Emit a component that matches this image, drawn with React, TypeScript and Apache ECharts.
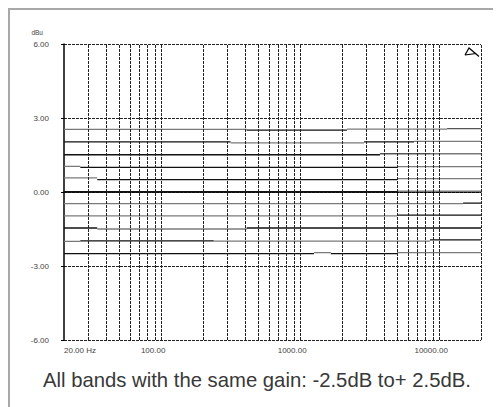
import React, { useEffect, useRef } from "react";
import * as echarts from "echarts";

// Frequency axis (Hz, log) and level axis (dBu)
const freqMin = 20;
const freqMax = 20000;
const levelMin = -6;
const levelMax = 6;
const levelStep = 3;
const gridFreqs = [
  30, 40, 50, 60, 70, 80, 90, 100,
  200, 300, 400, 500, 600, 700, 800, 900, 1000,
  2000, 3000, 4000, 5000, 6000, 7000, 8000, 9000, 10000, 20000,
];
const xLabelFreqs = [20, 100, 1000, 10000];
const xLabelTexts = ["20.00 Hz", "100.00", "1000.00", "10000.00"];

// Each trace: break frequencies (Hz), level of every segment (dB), tone of every segment
const tP25Breaks = [20, 412, 2170, 11400, 20000];
const tP25Values = [2.54, 2.51, 2.55, 2.57];
const tP25Tones = ["g", "k", "g", "d"];

const tP20Breaks = [20, 316, 2880, 6590, 20000];
const tP20Values = [2.03, 1.99, 2.03, 2.05];
const tP20Tones = ["k", "g", "k", "g"];

const tP15Breaks = [20, 3750, 8590, 20000];
const tP15Values = [1.51, 1.55, 1.55];
const tP15Tones = ["k", "d", "g"];

const tP10Breaks = [20, 26.2, 4980, 20000];
const tP10Values = [1.04, 1.0, 1.03];
const tP10Tones = ["g", "k", "g"];

const tP05Breaks = [20, 34.7, 4980, 20000];
const tP05Values = [0.57, 0.5, 0.54];
const tP05Tones = ["g", "k", "g"];

const tZeroBreaks = [20, 4980, 20000];
const tZeroValues = [0.01, 0.03];
const tZeroTones = ["k", "g"];

const tM05Breaks = [20, 14860, 20000];
const tM05Values = [-0.47, -0.45];
const tM05Tones = ["g", "k"];

const tM10Breaks = [20, 4980, 20000];
const tM10Values = [-0.97, -0.94];
const tM10Tones = ["g", "k"];

const tM15Breaks = [20, 34.7, 412, 20000];
const tM15Values = [-1.46, -1.5, -1.46];
const tM15Tones = ["k", "g", "k"];

const tM20Breaks = [20, 26.2, 239, 8590, 20000];
const tM20Values = [-2.0, -1.98, -1.99, -1.94];
const tM20Tones = ["g", "k", "g", "k"];

const tM25Breaks = [20, 1256, 1663, 4980, 20000];
const tM25Values = [-2.5, -2.46, -2.5, -2.46];
const tM25Tones = ["k", "g", "k", "g"];

const caption = "All bands with the same gain: -2.5dB to+ 2.5dB.";

const toneColors: Record<string, string> = { k: "#111111", g: "#7a7a7a", d: "#555555" };
const FONT = "Liberation Sans, Arial, sans-serif";

export default function App() {
  const ref = useRef<HTMLDivElement>(null);
  useEffect(() => {
    if (!ref.current) return;
    const chart = echarts.init(ref.current, null, { renderer: "svg" });

    const traces = [
      [tP25Breaks, tP25Values, tP25Tones],
      [tP20Breaks, tP20Values, tP20Tones],
      [tP15Breaks, tP15Values, tP15Tones],
      [tP10Breaks, tP10Values, tP10Tones],
      [tP05Breaks, tP05Values, tP05Tones],
      [tZeroBreaks, tZeroValues, tZeroTones],
      [tM05Breaks, tM05Values, tM05Tones],
      [tM10Breaks, tM10Values, tM10Tones],
      [tM15Breaks, tM15Values, tM15Tones],
      [tM20Breaks, tM20Values, tM20Tones],
      [tM25Breaks, tM25Values, tM25Tones],
    ] as [number[], number[], string[]][];

    const series: any[] = [
      {
        type: "line",
        data: [],
        silent: true,
        markLine: {
          silent: true,
          symbol: ["none", "none"],
          label: { show: false },
          emphasis: { disabled: true },
          lineStyle: { type: [3, 1], color: "#222222", width: 1 },
          data: gridFreqs.map((f) => ({ xAxis: f })),
        },
      },
    ];
    traces.forEach(([b, v, t]) => {
      v.forEach((val, i) => {
        series.push({
          type: "line",
          silent: true,
          symbol: "none",
          z: 3,
          data: [
            [b[i], val],
            [b[i + 1], val],
          ],
          lineStyle: { color: toneColors[t[i]], width: 1.3 },
        });
      });
    });

    const labelFor = (v: number) => {
      const r = Math.round(v);
      const idx = xLabelFreqs.indexOf(r);
      if (idx < 0) return "";
      return idx === 0 ? `{a|${xLabelTexts[idx]}}` : `{b|${xLabelTexts[idx]}}`;
    };

    chart.setOption({
      animation: false,
      title: {
        text: caption,
        left: 35,
        top: 362,
        padding: 0,
        textStyle: { fontSize: 20.3, fontWeight: "normal", color: "#383838", fontFamily: FONT },
      },
      grid: { left: 56, top: 36, right: 20, bottom: 67, containLabel: false },
      xAxis: {
        type: "log",
        logBase: 10,
        min: freqMin,
        max: freqMax,
        axisLine: { show: true, lineStyle: { color: "#000", width: 1.5 } },
        axisTick: { show: false },
        splitLine: { show: false },
        minorTick: { show: false },
        axisLabel: {
          margin: 6,
          fontSize: 8,
          color: "#444",
          fontFamily: FONT,
          showMinLabel: true,
          formatter: labelFor,
          rich: {
            a: { padding: [0, 0, 0, 32], fontSize: 8, color: "#444", fontFamily: FONT },
            b: { padding: [0, 16, 0, 0], fontSize: 8, color: "#444", fontFamily: FONT },
          },
        },
      },
      yAxis: {
        type: "value",
        min: levelMin,
        max: levelMax,
        interval: levelStep,
        name: "dBu",
        nameLocation: "end",
        nameGap: 8,
        nameTextStyle: { fontSize: 6.5, color: "#444", fontFamily: FONT, align: "right", padding: [0, 21, 0, 0] },
        axisLine: { show: true, lineStyle: { color: "#000", width: 1.5 } },
        axisTick: { show: true, length: 3, lineStyle: { color: "#000" } },
        splitLine: { show: true, lineStyle: { type: [3, 1], color: "#222222", width: 1 } },
        axisLabel: {
          margin: 15,
          fontSize: 8,
          color: "#444",
          fontFamily: FONT,
          formatter: (v: number) => v.toFixed(2),
        },
      },
      graphic: [
        {
          type: "rect",
          silent: true,
          shape: { x: 1, y: 1, width: 700, height: 700 },
          style: { fill: "none", stroke: "#a8a8a8", lineWidth: 2 },
        },
        {
          type: "polyline",
          silent: true,
          shape: { points: [[457, 47], [461, 40], [471, 48.5]] },
          style: { fill: "none", stroke: "#000", lineWidth: 1.2 },
        },
        {
          type: "line",
          silent: true,
          shape: { x1: 457, y1: 47, x2: 468, y2: 45.5 },
          style: { stroke: "#000", lineWidth: 1.2 },
        },
      ],
      series,
    });
    return () => chart.dispose();
  }, []);
  return <div ref={ref} style={{ width: 493, height: 399 }} />;
}
